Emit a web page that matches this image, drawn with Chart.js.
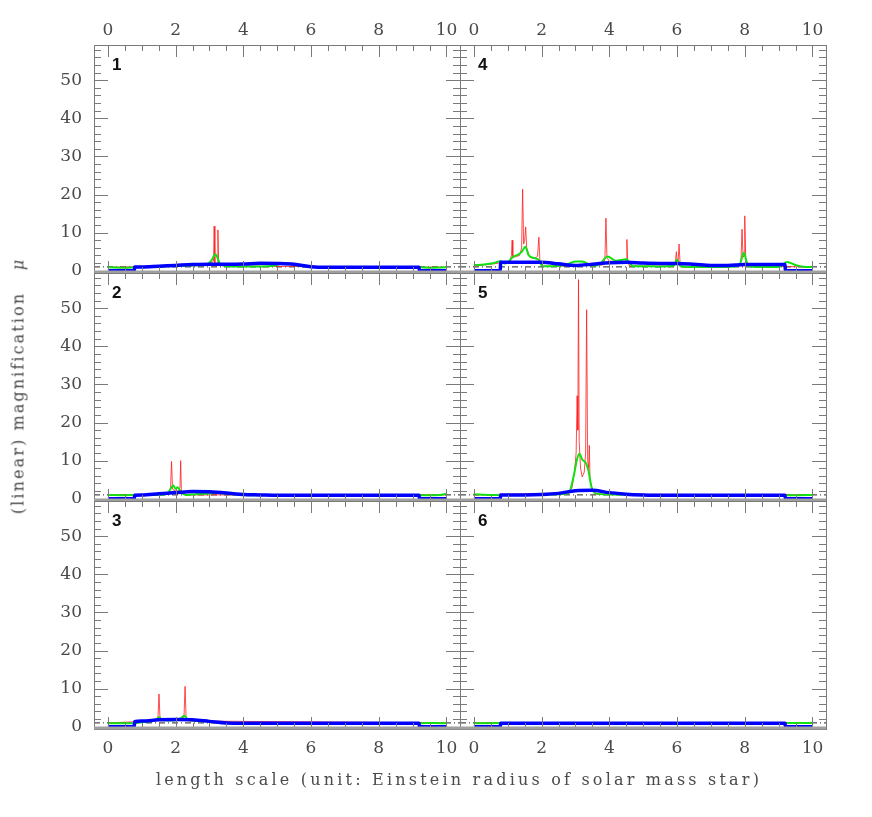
<!DOCTYPE html>
<html>
<head>
<meta charset="utf-8">
<script src="https://cdn.jsdelivr.net/npm/chart.js@4.4.1/dist/chart.umd.min.js"></script>
<style>
  body { margin: 0; background: #fff; }
  #wrap { position: relative; width: 872px; height: 817px; }
  #wrap canvas { position: absolute; left: 0; top: 0; }
  .ttl { position: absolute; font-family: "DejaVu Serif"; font-size: 16px; color: #4a4a4a;
         white-space: pre; letter-spacing: 3.2px; transform: translate(-50%, -50%); }
  #ytitle { left: 18px; top: 386px; transform: translate(-50%, -50%) rotate(-90deg); letter-spacing: 2.1px; }
  #xtitle { left: 459px; top: 779px; }
</style>
</head>
<body>
<div id="wrap">
  <canvas id="c1" width="872" height="817"></canvas>
  <canvas id="c2" width="872" height="817"></canvas>
  <canvas id="c3" width="872" height="817"></canvas>
  <canvas id="c4" width="872" height="817"></canvas>
  <canvas id="c5" width="872" height="817"></canvas>
  <canvas id="c6" width="872" height="817"></canvas>
  <div id="ytitle" class="ttl">(linear) magnification   <i>μ</i></div>
  <div id="xtitle" class="ttl">length scale (unit: Einstein radius of solar mass star)</div>
</div>
<script>
'use strict'

// axes
var xTicks = [0, 2, 4, 6, 8, 10];
var yTicks = [0, 10, 20, 30, 40, 50];
var xRange = [-0.41, 10.4];
var yRange = [-0.6, 59.24];

// mu = 1 reference line
var refX = [-0.41, 10.4];
var refY = [1, 1];

// blue (heavily smoothed) curves share one x grid
var blueX = [0, 0.78, 0.79, 1, 1.5, 2, 2.5, 3, 3.5, 4, 4.5, 5, 5.5, 6, 6.5, 7, 7.5, 8, 8.5, 9, 9.19, 9.2, 10];
var blue1 = [0, 0, 1.0, 1.0, 1.2, 1.4, 1.6, 1.7, 1.7, 1.75, 1.95, 1.9, 1.7, 1.05, 0.9, 0.9, 0.9, 0.9, 0.9, 0.9, 0.9, 0, 0];
var blue2 = [0, 0, 0.9, 1.0, 1.3, 1.6, 1.9, 1.8, 1.5, 1.1, 1.0, 0.9, 0.9, 0.9, 0.9, 0.9, 0.9, 0.9, 0.9, 0.9, 0.9, 0, 0];
var blue3 = [0, 0, 1.3, 1.5, 1.8, 1.9, 1.8, 1.4, 1.0, 0.9, 0.9, 0.9, 0.9, 0.9, 0.9, 0.9, 0.9, 0.9, 0.9, 0.9, 0.9, 0, 0];
var blue4 = [0, 0, 2.2, 2.2, 2.2, 2.2, 1.8, 1.4, 1.7, 2.1, 2.2, 2.0, 1.9, 1.9, 1.7, 1.4, 1.4, 1.6, 1.6, 1.6, 1.6, 0, 0];
var blue5 = [0, 0, 1.0, 1.0, 1.0, 1.1, 1.4, 2.1, 2.2, 1.6, 1.2, 1.0, 0.9, 0.9, 0.9, 0.9, 0.9, 0.9, 0.9, 0.9, 0.9, 0, 0];
var blue6 = [0, 0, 0.9, 0.9, 0.9, 0.9, 0.9, 0.9, 0.9, 0.9, 0.9, 0.9, 0.9, 0.9, 0.9, 0.9, 0.9, 0.9, 0.9, 0.9, 0.9, 0, 0];

// green (smoothed) curves
var green1X = [0, 0.5, 0.78, 1, 1.5, 2, 2.5, 2.9, 3.05, 3.18, 3.3, 3.5, 4, 4.5, 4.9, 5.2, 5.5, 6, 6.5, 7, 8, 9, 9.2, 9.5, 10];
var green1Y = [0.9, 0.8, 0.9, 1.0, 1.1, 1.3, 1.4, 1.5, 2.6, 4.3, 2.0, 1.2, 1.1, 1.1, 1.3, 2.0, 1.5, 1.0, 0.9, 0.9, 0.9, 0.9, 0.9, 0.8, 0.9];
var green2X = [0, 0.5, 0.78, 1, 1.5, 1.75, 1.85, 1.93, 2.0, 2.06, 2.15, 2.3, 2.6, 3.0, 3.2, 3.5, 4, 5, 6, 7, 8, 9, 9.5, 9.8, 10];
var green2Y = [1.0, 0.9, 1.0, 1.0, 1.0, 1.2, 2.6, 3.5, 2.6, 3.0, 1.8, 1.0, 1.2, 1.4, 1.6, 1.3, 1.0, 0.9, 0.9, 0.9, 0.9, 0.9, 0.9, 1.0, 1.3];
var green3X = [0, 0.5, 0.78, 1, 1.3, 1.45, 1.52, 1.6, 1.8, 2.0, 2.15, 2.25, 2.35, 2.5, 3, 3.5, 4, 5, 6, 7, 8, 9, 9.2, 9.6, 10];
var green3Y = [0.9, 0.9, 0.9, 1.2, 1.5, 2.0, 2.5, 1.8, 1.6, 1.7, 2.2, 2.9, 2.0, 1.6, 1.4, 1.0, 0.9, 0.9, 0.9, 0.9, 0.9, 0.9, 0.9, 1.0, 0.9];
var green4X = [0, 0.3, 0.6, 0.77, 0.9, 1.0, 1.15, 1.3, 1.42, 1.52, 1.62, 1.8, 1.92, 2.02, 2.3, 2.7, 3.0, 3.2, 3.5, 3.7, 3.95,
               4.2, 4.5, 4.7, 5.0, 5.5, 5.9, 6.0, 6.1, 6.5, 7, 7.5, 7.85, 7.97, 8.1, 8.3, 8.7, 9.0, 9.25, 9.5, 9.8, 10];
var green4Y = [1.5, 1.6, 2.0, 2.5, 1.9, 2.2, 3.6, 4.2, 5.0, 6.3, 4.0, 3.3, 2.8, 1.2, 1.2, 1.5, 2.4, 2.4, 1.3, 1.6, 3.7,
               2.6, 3.0, 1.2, 1.2, 1.1, 1.3, 2.9, 1.2, 1.0, 1.0, 1.0, 1.6, 4.7, 1.2, 1.0, 1.0, 1.0, 2.3, 1.5, 1.0, 1.0];
var green5X = [0, 0.5, 0.78, 1, 2, 2.5, 2.8, 2.95, 3.05, 3.12, 3.2, 3.3, 3.38, 3.47, 3.6, 4, 5, 6, 7, 8, 9, 9.5, 10];
var green5Y = [1.2, 1.0, 1.0, 1.0, 1.0, 1.2, 1.5, 6.0, 10.5, 11.8, 10.3, 9.5, 7.5, 3.2, 1.4, 1.1, 1.0, 0.9, 0.9, 0.9, 0.9, 0.9, 1.0];
var green6X = [0, 0.78, 1, 5, 9, 9.2, 10];
var green6Y = [0.9, 1.0, 0.9, 0.9, 0.9, 1.0, 1.0];

// red (full resolution) curves
var red1X = [0, 2.9, 3.05, 3.12, 3.14, 3.16, 3.2, 3.23, 3.25, 3.27, 3.35, 3.5, 10];
var red1Y = [0.9, 1.4, 2.0, 2.5, 11.7, 1.5, 1.1, 2.0, 10.7, 2.0, 1.8, 1.2, 0.9];
var red2X = [0, 1.75, 1.85, 1.88, 1.91, 2.0, 2.1, 2.13, 2.15, 2.17, 2.3, 10];
var red2Y = [1.0, 1.2, 2.5, 9.8, 2.5, 2.0, 2.0, 3.0, 10.0, 2.0, 1.0, 1.0];
var red3X = [0, 1.4, 1.48, 1.51, 1.54, 1.6, 2.2, 2.25, 2.28, 2.31, 2.4, 10];
var red3Y = [1.0, 1.5, 2.5, 8.6, 2.0, 1.6, 1.8, 3.0, 10.6, 2.5, 1.5, 1.0];
var red4X = [0, 1.05, 1.11, 1.13, 1.15, 1.2, 1.35, 1.41, 1.44, 1.47, 1.5, 1.53, 1.56, 1.65, 1.8, 1.88, 1.92, 1.95, 2.05,
             3.8, 3.87, 3.90, 3.93, 4.0, 4.45, 4.5, 4.52, 4.54, 4.6, 5.9, 5.95, 5.98, 6.01, 6.03, 6.06, 6.09, 6.15,
             7.85, 7.89, 7.92, 7.95, 7.98, 8.0, 8.03, 8.1, 10];
var red4Y = [1.2, 2.3, 4.0, 8.0, 3.5, 3.6, 4.0, 6.0, 21.4, 7.0, 8.0, 11.5, 6.0, 3.5, 3.2, 3.8, 8.8, 2.5, 1.1,
             1.5, 3.0, 13.8, 3.5, 2.5, 2.2, 3.0, 8.2, 2.5, 1.2, 1.2, 2.0, 5.0, 2.0, 2.2, 7.0, 2.0, 1.0,
             1.2, 3.0, 10.9, 3.5, 4.0, 14.4, 3.0, 1.2, 1.0];
var red5X = [0, 2.8, 2.9, 2.97, 3.02, 3.05, 3.07, 3.09, 3.11, 3.15, 3.2, 3.26, 3.3, 3.33, 3.36, 3.39, 3.41, 3.43, 3.5, 3.6, 10];
var red5Y = [1.0, 1.5, 3.0, 7.0, 12.0, 27.0, 18.0, 57.5, 15.0, 8.0, 5.7, 7.0, 12.0, 49.6, 10.0, 8.0, 14.0, 5.0, 2.0, 1.2, 1.0];
var red6X = [0, 10];
var red6Y = [1.0, 1.0];

// panel frames in page pixels
var colLeft = [94, 460];
var colRight = [460, 826];
var rowTop = [45, 273, 501];
var rowBottom = [273, 501, 729];

var panels = [
  { id: 'c1', name: '1', col: 0, row: 0, blue: blue1, gx: green1X, gy: green1Y, rx: red1X, ry: red1Y },
  { id: 'c2', name: '2', col: 0, row: 1, blue: blue2, gx: green2X, gy: green2Y, rx: red2X, ry: red2Y },
  { id: 'c3', name: '3', col: 0, row: 2, blue: blue3, gx: green3X, gy: green3Y, rx: red3X, ry: red3Y },
  { id: 'c4', name: '4', col: 1, row: 0, blue: blue4, gx: green4X, gy: green4Y, rx: red4X, ry: red4Y },
  { id: 'c5', name: '5', col: 1, row: 1, blue: blue5, gx: green5X, gy: green5Y, rx: red5X, ry: red5Y },
  { id: 'c6', name: '6', col: 1, row: 2, blue: blue6, gx: green6X, gy: green6Y, rx: red6X, ry: red6Y }
];

function pts(xs, ys) {
  return xs.map(function(x, i) { return { x: x, y: ys[i] }; });
}

var labelFont = { family: 'DejaVu Serif', size: 17 };
var AXIS_W = 40;
var AXIS_H = 34;

// frame, inward tick marks and panel number
var framePlugin = {
  id: 'frame',
  afterDraw: function(chart) {
    var ctx = chart.ctx, a = chart.chartArea;
    var x = chart.scales.x, y = chart.scales.y;
    ctx.save();
    ctx.strokeStyle = '#7a7a7a';
    ctx.lineWidth = 1;
    ctx.beginPath();
    for (var i = 0; i <= 20; i++) {
      var px = Math.round(x.getPixelForValue(i / 2)) + 0.5;
      var len = i % 4 === 0 ? 12 : 6;
      ctx.moveTo(px, a.top); ctx.lineTo(px, a.top + len);
      ctx.moveTo(px, a.bottom); ctx.lineTo(px, a.bottom - len);
    }
    for (var j = 0; j <= 29; j++) {
      var py = Math.round(y.getPixelForValue(j * 2)) + 0.5;
      var l2 = j % 5 === 0 ? 14 : 7;
      ctx.moveTo(a.left, py); ctx.lineTo(a.left + l2, py);
      ctx.moveTo(a.right, py); ctx.lineTo(a.right - l2, py);
    }
    ctx.stroke();
    ctx.strokeRect(Math.round(a.left) + 0.5, Math.round(a.top) + 0.5, a.right - a.left, a.bottom - a.top);
    ctx.strokeStyle = '#a0a0a0';
    ctx.lineWidth = 3;
    ctx.beginPath();
    ctx.moveTo(a.left, a.bottom - 1);
    ctx.lineTo(a.right, a.bottom - 1);
    ctx.stroke();
    ctx.fillStyle = '#111';
    ctx.font = 'bold 17px "Liberation Sans"';
    ctx.textBaseline = 'top';
    ctx.fillText(chart.options.plugins.frame.name, x.getPixelForValue(0) + 4, a.top + 12);
    ctx.restore();
  }
};

panels.forEach(function(p) {
  var showY = p.col === 0;
  var xPos = p.row === 0 ? 'top' : 'bottom';
  var showX = p.row !== 1;
  var pad = {
    left: showY ? colLeft[p.col] - AXIS_W : colLeft[p.col],
    right: 872 - colRight[p.col],
    top: (showX && xPos === 'top') ? rowTop[p.row] - AXIS_H : rowTop[p.row],
    bottom: (showX && xPos === 'bottom') ? 817 - rowBottom[p.row] - AXIS_H : 817 - rowBottom[p.row]
  };

  new Chart(document.getElementById(p.id), {
    type: 'line',
    data: {
      datasets: [
        { data: pts(blueX, p.blue), borderColor: '#0000ff', borderWidth: 3.5, order: 1, cubicInterpolationMode: 'monotone' },
        { data: pts(p.gx, p.gy), borderColor: '#11e011', borderWidth: 2, order: 2, cubicInterpolationMode: 'monotone' },
        { data: pts(p.rx, p.ry), borderColor: 'rgba(255,30,30,0.8)', borderWidth: 1, order: 3 },
        { data: pts(refX, refY), borderColor: '#222', borderWidth: 1, borderDash: [6, 3, 1, 3], order: 4 }
      ]
    },
    options: {
      responsive: false,
      animation: false,
      layout: { padding: pad },
      elements: { point: { radius: 0 }, line: { tension: 0, fill: false } },
      plugins: { legend: { display: false }, tooltip: { enabled: false }, frame: { name: p.name } },
      scales: {
        x: {
          type: 'linear', position: xPos, display: showX,
          min: xRange[0], max: xRange[1],
          grid: { display: false, drawTicks: false }, border: { display: false },
          afterBuildTicks: function(s) { s.ticks = xTicks.map(function(v) { return { value: v }; }); },
          afterFit: function(s) { s.height = showX ? AXIS_H : 0; },
          ticks: { font: labelFont, color: '#4a4a4a', padding: xPos === 'top' ? 4 : 9, maxRotation: 0, autoSkip: false }
        },
        y: {
          type: 'linear', position: 'left', display: showY,
          min: yRange[0], max: yRange[1],
          grid: { display: false, drawTicks: false }, border: { display: false },
          afterBuildTicks: function(s) { s.ticks = yTicks.map(function(v) { return { value: v }; }); },
          afterFit: function(s) { s.width = showY ? AXIS_W : 0; },
          ticks: { font: labelFont, color: '#4a4a4a', padding: 12, autoSkip: false }
        }
      }
    },
    plugins: [framePlugin]
  });
});
</script>
</body>
</html>
